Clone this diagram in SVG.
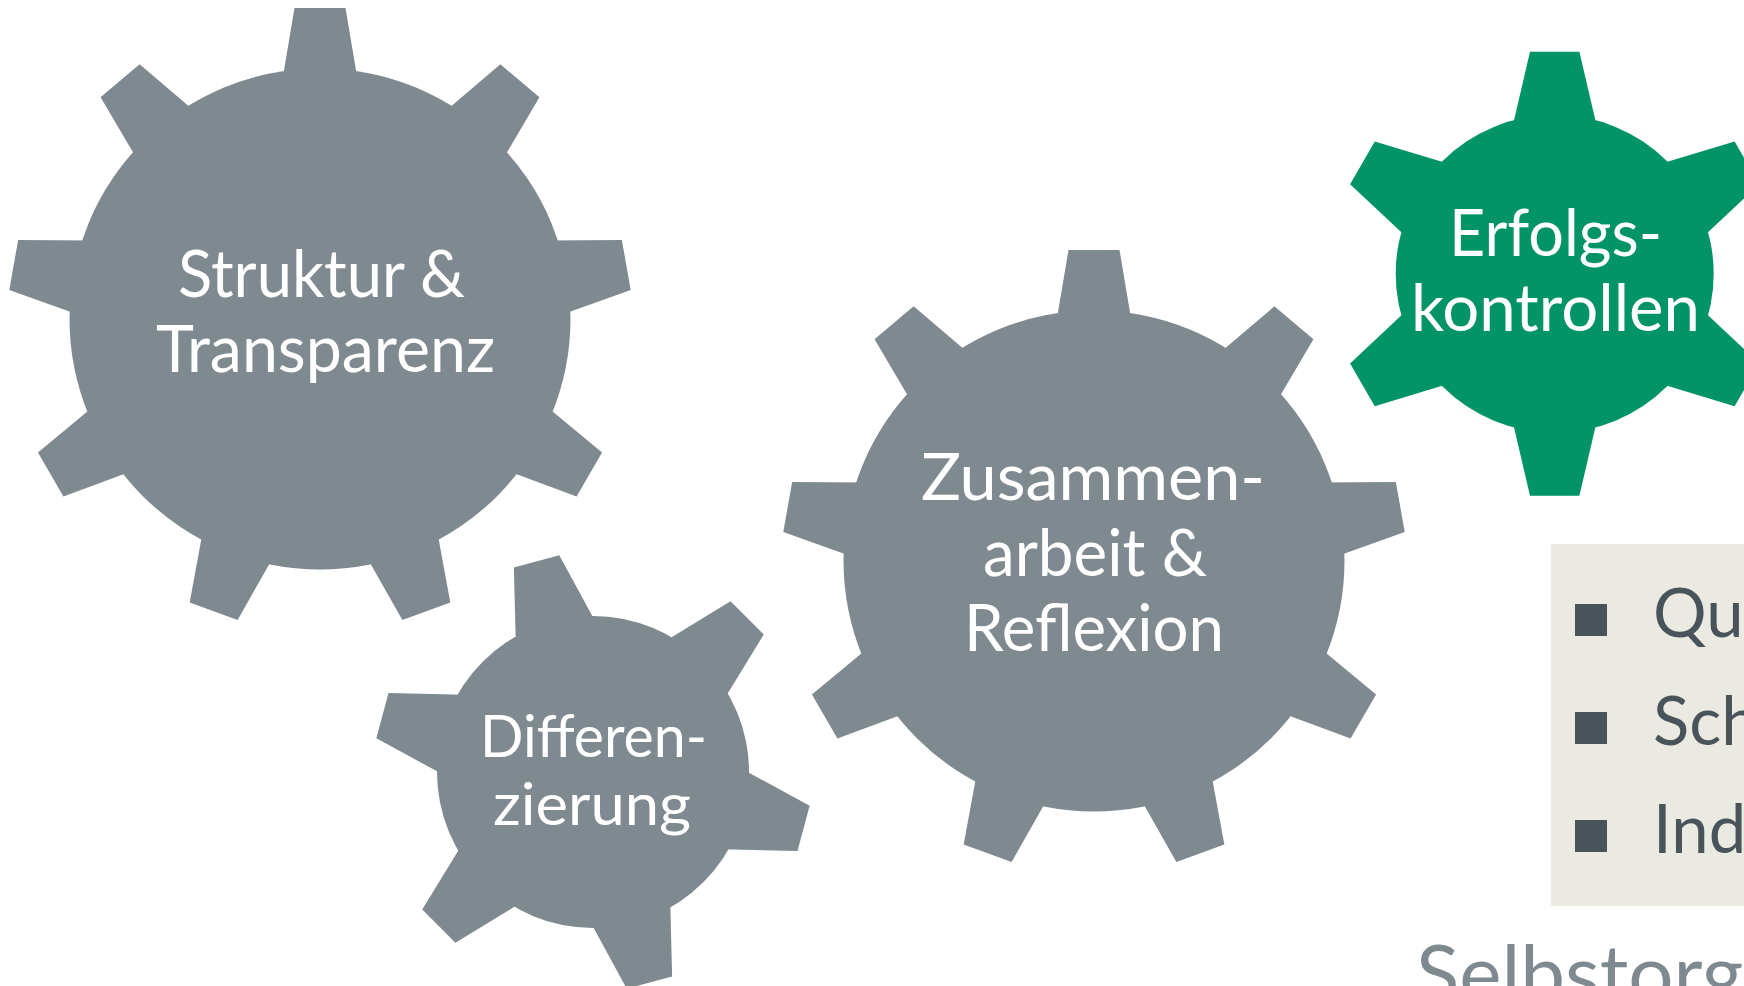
<svg xmlns="http://www.w3.org/2000/svg" width="1744" height="986" viewBox="0 0 1744 986">
<style>
.gray{fill:#7F8A90}
.green{fill:#029466}
.lbl{font-family:Lato,"Open Sans",sans-serif;fill:#FFFFFF}
.item{font-family:Lato,"Open Sans",sans-serif;fill:#48535A;font-size:67px}
.bullet{fill:#48535A}
.panel{fill:#EAE9E2}
.foot{font-family:Lato,"Open Sans",sans-serif;fill:#7F8A90;font-size:80px}
</style>
<defs>
<polygon id="toothL" points="-25.5,-311 25.5,-311 38.3,-235 -38.3,-235"/>
<polygon id="toothS" points="-23.5,-218 23.5,-218 43.5,-135 -43.5,-135"/>
<polygon id="toothG" points="-24.7,-222 24.7,-222 45,-135 -45,-135"/>
</defs>
<rect width="1744" height="986" fill="#FFFFFF"/>

<g id="gear-struktur">
<g class="gray" transform="translate(320,319)">
<circle r="250.5"/>
<use href="#toothL"/>
<use href="#toothL" transform="rotate(40)"/>
<use href="#toothL" transform="rotate(80)"/>
<use href="#toothL" transform="rotate(120)"/>
<use href="#toothL" transform="rotate(160)"/>
<use href="#toothL" transform="rotate(200)"/>
<use href="#toothL" transform="rotate(240)"/>
<use href="#toothL" transform="rotate(280)"/>
<use href="#toothL" transform="rotate(320)"/>
</g>
<text class="lbl" x="178" y="297" font-size="65" textLength="287" lengthAdjust="spacingAndGlyphs">Struktur &amp;</text>
<text class="lbl" x="156" y="372" font-size="65" textLength="339" lengthAdjust="spacingAndGlyphs">Transparenz</text>
</g>

<g id="gear-differenzierung">
<g class="gray" transform="translate(593,772)">
<circle r="156"/>
<use href="#toothS" transform="rotate(-15)"/>
<use href="#toothS" transform="rotate(45)"/>
<use href="#toothS" transform="rotate(105)"/>
<use href="#toothS" transform="rotate(165)"/>
<use href="#toothS" transform="rotate(225)"/>
<use href="#toothS" transform="rotate(285)"/>
</g>
<text class="lbl" x="480" y="757" font-size="58" textLength="227" lengthAdjust="spacingAndGlyphs">Differen-</text>
<text class="lbl" x="493" y="825" font-size="58" textLength="198" lengthAdjust="spacingAndGlyphs">zierung</text>
</g>

<g id="gear-zusammenarbeit">
<g class="gray" transform="translate(1094,561)">
<circle r="250.5"/>
<use href="#toothL"/>
<use href="#toothL" transform="rotate(40)"/>
<use href="#toothL" transform="rotate(80)"/>
<use href="#toothL" transform="rotate(120)"/>
<use href="#toothL" transform="rotate(160)"/>
<use href="#toothL" transform="rotate(200)"/>
<use href="#toothL" transform="rotate(240)"/>
<use href="#toothL" transform="rotate(280)"/>
<use href="#toothL" transform="rotate(320)"/>
</g>
<text class="lbl" x="921" y="500" font-size="66" textLength="344" lengthAdjust="spacingAndGlyphs">Zusammen-</text>
<text class="lbl" x="983" y="576" font-size="66" textLength="224" lengthAdjust="spacingAndGlyphs">arbeit &amp;</text>
<text class="lbl" x="964" y="651" font-size="66" textLength="260" lengthAdjust="spacingAndGlyphs">Reflexion</text>
</g>

<g id="gear-erfolgskontrollen">
<g class="green" transform="translate(1554.7,273.8)">
<circle r="159"/>
<use href="#toothG"/>
<use href="#toothG" transform="rotate(60)"/>
<use href="#toothG" transform="rotate(120)"/>
<use href="#toothG" transform="rotate(180)"/>
<use href="#toothG" transform="rotate(240)"/>
<use href="#toothG" transform="rotate(300)"/>
</g>
<text class="lbl" x="1449" y="256" font-size="65" textLength="213" lengthAdjust="spacingAndGlyphs">Erfolgs-</text>
<text class="lbl" x="1411" y="331" font-size="65" textLength="289" lengthAdjust="spacingAndGlyphs">kontrollen</text>
</g>

<g id="panel-list">
<rect class="panel" x="1551" y="544" width="193" height="362"/>
<rect class="bullet" x="1575" y="604" width="32" height="32"/>
<rect class="bullet" x="1575" y="712" width="32" height="32"/>
<rect class="bullet" x="1575" y="820" width="32" height="32"/>
<text class="item" x="1653" y="637">Qu</text>
<text class="item" x="1653" y="745">Sch</text>
<text class="item" x="1653" y="853">Ind</text>
</g>

<g id="footer">
<text class="foot" x="1416" y="1002">Selbstorg</text>
</g>

<g id="connectors"></g>
</svg>
